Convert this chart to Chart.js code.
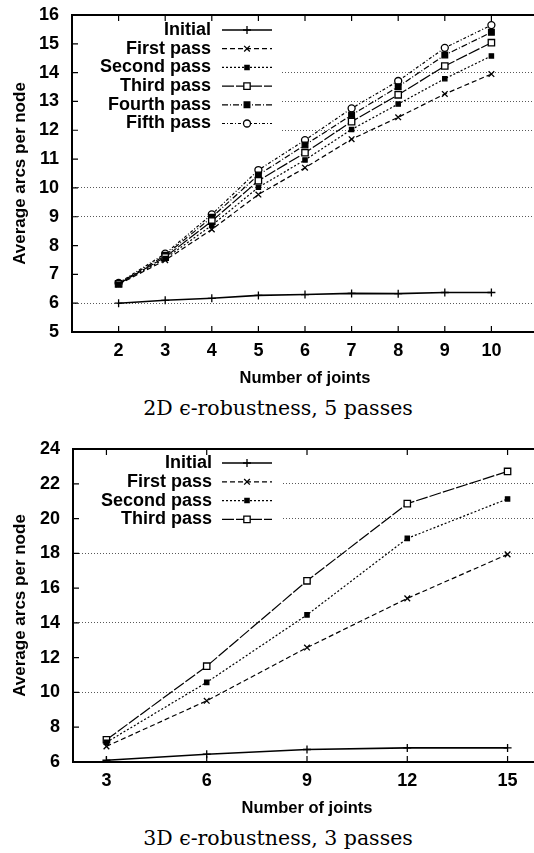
<!DOCTYPE html>
<html>
<head>
<meta charset="utf-8">
<script src="https://cdn.jsdelivr.net/npm/chart.js@4.4.0/dist/chart.umd.min.js"></script>
<style>
html, body { margin: 0; padding: 0; background: #fff; width: 534px; height: 853px; overflow: hidden; }
.caja { position: absolute; left: 0; height: 390px; }
.pie { position: absolute; left: 0; width: 556px; text-align: center; font-family: 'DejaVu Serif', serif; font-size: 20.5px; line-height: 24px; color: #000; }
</style>
</head>
<body>
<div class="caja" style="top:0; width:542px;"><canvas id="chart2d"></canvas></div>
<div class="pie" style="top:396px;">2D ϵ-robustness, 5 passes</div>
<div class="caja" style="top:430px; width:545px;"><canvas id="chart3d"></canvas></div>
<div class="pie" style="top:826px;">3D ϵ-robustness, 3 passes</div>
<script>
// Datos 2D (5 pasadas)
var joints2d = [2, 3, 4, 5, 6, 7, 8, 9, 10];
var initial2d = [6.0, 6.1, 6.17, 6.27, 6.3, 6.34, 6.33, 6.37, 6.37];
var first2d = [6.65, 7.49, 8.56, 9.77, 10.7, 11.69, 12.45, 13.26, 13.95];
var second2d = [6.66, 7.55, 8.7, 10.02, 10.97, 12.03, 12.91, 13.79, 14.58];
var third2d = [6.67, 7.6, 8.85, 10.25, 11.22, 12.3, 13.23, 14.23, 15.04];
var fourth2d = [6.68, 7.66, 8.98, 10.45, 11.49, 12.53, 13.51, 14.61, 15.4];
var fifth2d = [6.7, 7.72, 9.08, 10.62, 11.66, 12.76, 13.71, 14.86, 15.65];
var xTicks2d = [2, 3, 4, 5, 6, 7, 8, 9, 10];
var yTicks2d = [5, 6, 7, 8, 9, 10, 11, 12, 13, 14, 15, 16];

// Datos 3D (3 pasadas)
var joints3d = [3, 6, 9, 12, 15];
var initial3d = [6.1, 6.45, 6.72, 6.81, 6.81];
var first3d = [6.9, 9.52, 12.58, 15.41, 17.94];
var second3d = [7.13, 10.58, 14.46, 18.86, 21.13];
var third3d = [7.28, 11.51, 16.42, 20.86, 22.71];
var xTicks3d = [3, 6, 9, 12, 15];
var yTicks3d = [6, 8, 10, 12, 14, 16, 18, 20, 22, 24];

var nombres = ['Initial', 'First pass', 'Second pass', 'Third pass', 'Fourth pass', 'Fifth pass'];

// estilo de cada serie (tipo gnuplot)
var estilos = [
    { dash: [], width: 1.6, point: 'cross', radius: 4, fill: '#000' },
    { dash: [5, 3], width: 1.2, point: 'crossRot', radius: 4, fill: '#000' },
    { dash: [2, 2], width: 1.2, point: 'rect', radius: 3, fill: '#000' },
    { dash: [12, 2], width: 1.2, point: 'rect', radius: 4.5, fill: '#fff' },
    { dash: [6, 2, 1, 2], width: 1.2, point: 'rect', radius: 4, fill: '#000' },
    { dash: [3, 2, 1, 2], width: 1.2, point: 'circle', radius: 3.5, fill: '#fff' }
];

var sans = "'Liberation Sans', Arial, sans-serif";

function serie(i, xs, ys) {
    var e = estilos[i];
    return {
        label: nombres[i],
        data: xs.map(function(x, k) { return { x: x, y: ys[k] }; }),
        borderColor: '#000',
        borderWidth: e.width,
        borderDash: e.dash,
        pointStyle: e.point,
        pointRadius: e.radius,
        pointBackgroundColor: e.fill,
        pointBorderColor: '#000',
        pointBorderWidth: 1.3,
        tension: 0,
        fill: false
    };
}

// marco, marcas y leyenda dentro del area
var marco = {
    id: 'marco',
    beforeDatasetsDraw: function(chart, args, opts) {
        var ctx = chart.ctx, a = chart.chartArea;
        var n = chart.data.datasets.length;
        ctx.save();
        ctx.fillStyle = '#fff';
        ctx.fillRect(a.left + 2, a.top + 2, opts.boxRight - a.left - 2, opts.first + (n - 1) * opts.step + 10);
        ctx.restore();
    },
    afterDraw: function(chart, args, opts) {
        var ctx = chart.ctx, a = chart.chartArea;
        var sx = chart.scales.x, sy = chart.scales.y;
        ctx.save();
        ctx.strokeStyle = '#000';
        ctx.setLineDash([]);
        ctx.lineWidth = 2;
        ctx.beginPath();
        ctx.moveTo(a.right, a.top);
        ctx.lineTo(a.left, a.top);
        ctx.lineTo(a.left, a.bottom);
        ctx.lineTo(a.right, a.bottom);
        ctx.stroke();
        ctx.lineWidth = 1.2;
        ctx.beginPath();
        sx.ticks.forEach(function(t) {
            var px = sx.getPixelForValue(t.value);
            ctx.moveTo(px, a.bottom); ctx.lineTo(px, a.bottom - 6);
            ctx.moveTo(px, a.top); ctx.lineTo(px, a.top + 6);
        });
        sy.ticks.forEach(function(t) {
            var py = sy.getPixelForValue(t.value);
            ctx.moveTo(a.left, py); ctx.lineTo(a.left + 6, py);
        });
        ctx.stroke();

        // leyenda
        ctx.font = 'bold 18px ' + sans;
        ctx.textAlign = 'right';
        ctx.textBaseline = 'middle';
        chart.data.datasets.forEach(function(ds, i) {
            var y = a.top + opts.first + i * opts.step;
            ctx.fillStyle = '#000';
            ctx.fillText(ds.label, opts.textRight, y);
            ctx.lineWidth = ds.borderWidth;
            ctx.setLineDash(ds.borderDash);
            ctx.beginPath();
            ctx.moveTo(opts.lineFrom, y);
            ctx.lineTo(opts.lineTo, y);
            ctx.stroke();
            ctx.setLineDash([]);
            ctx.lineWidth = 1.3;
            ctx.fillStyle = ds.pointBackgroundColor;
            Chart.helpers.drawPoint(ctx, { pointStyle: ds.pointStyle, radius: ds.pointRadius, rotation: 0, borderWidth: 1.3 },
                (opts.lineFrom + opts.lineTo) / 2, y);
        });
        ctx.restore();
    }
};

function opciones(cfg) {
    return {
        responsive: true,
        maintainAspectRatio: false,
        animation: false,
        devicePixelRatio: 1,
        layout: { autoPadding: false, padding: { top: cfg.padTop, right: 4, left: 0, bottom: 0 } },
        plugins: {
            legend: { display: false },
            tooltip: { enabled: false },
            marco: cfg.leyenda
        },
        scales: {
            x: {
                type: 'linear',
                min: cfg.xMin,
                max: cfg.xMax,
                afterBuildTicks: function(s) { s.ticks = cfg.xTicks.map(function(v) { return { value: v }; }); },
                afterFit: function(s) { s.height = 58; },
                grid: { display: false, drawTicks: false },
                border: { display: false },
                ticks: { color: '#000', padding: 8, maxRotation: 0, font: { family: sans, size: 18, weight: 'bold' } },
                title: { display: true, text: 'Number of joints', color: '#000', padding: { top: 0, bottom: 2 },
                    font: { family: sans, size: 16.5, weight: 'bold' } }
            },
            y: {
                min: cfg.yMin,
                max: cfg.yMax,
                afterBuildTicks: function(s) { s.ticks = cfg.yTicks.map(function(v) { return { value: v }; }); },
                afterFit: function(s) { s.width = cfg.left; s.paddingTop = 0; s.paddingBottom = 0; },
                grid: {
                    drawTicks: false,
                    lineWidth: 1,
                    color: function(c) {
                        return c.tick && cfg.grid.indexOf(c.tick.value) >= 0 ? 'rgba(0,0,0,0.65)' : 'rgba(0,0,0,0)';
                    }
                },
                border: { display: false, dash: [1, 2] },
                ticks: { color: '#000', padding: 13, font: { family: sans, size: 18, weight: 'bold' } },
                title: { display: true, text: 'Average arcs per node', color: '#000', padding: { top: 10, bottom: 0 },
                    font: { family: sans, size: 17, weight: 'bold' } }
            }
        }
    };
}

new Chart(document.getElementById('chart2d'), {
    type: 'line',
    data: {
        datasets: [
            serie(0, joints2d, initial2d),
            serie(1, joints2d, first2d),
            serie(2, joints2d, second2d),
            serie(3, joints2d, third2d),
            serie(4, joints2d, fourth2d),
            serie(5, joints2d, fifth2d)
        ]
    },
    options: opciones({
        padTop: 15, left: 72, xMin: 1, xMax: 11, yMin: 5, yMax: 16,
        xTicks: xTicks2d, yTicks: yTicks2d, grid: [6, 9, 10, 12, 13, 14],
        leyenda: { first: 15, step: 18.7, textRight: 211, lineFrom: 222, lineTo: 272, boxRight: 281 }
    }),
    plugins: [marco]
});

new Chart(document.getElementById('chart3d'), {
    type: 'line',
    data: {
        datasets: [
            serie(0, joints3d, initial3d),
            serie(1, joints3d, first3d),
            serie(2, joints3d, second3d),
            serie(3, joints3d, third3d)
        ]
    },
    options: opciones({
        padTop: 19, left: 73, xMin: 2, xMax: 16, yMin: 6, yMax: 24,
        xTicks: xTicks3d, yTicks: yTicks3d, grid: [10, 14, 18, 20, 22],
        leyenda: { first: 14, step: 18.8, textRight: 212, lineFrom: 222, lineTo: 272, boxRight: 281 }
    }),
    plugins: [marco]
});
</script>
</body>
</html>
